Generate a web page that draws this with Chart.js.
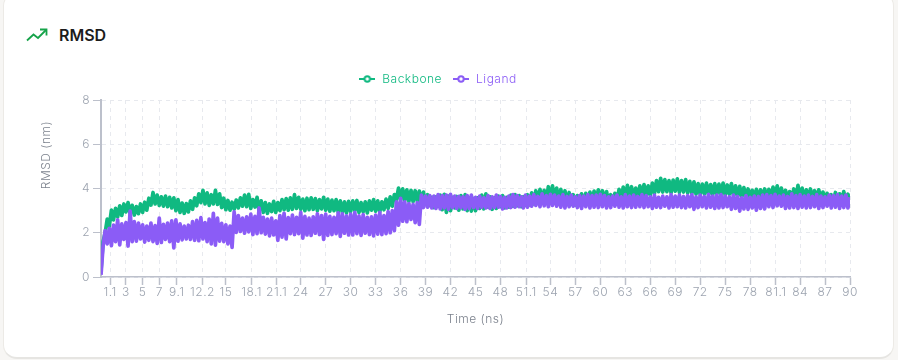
<!DOCTYPE html>
<html><head><meta charset="utf-8">
<script src="https://cdn.jsdelivr.net/npm/chart.js@4"></script>
<style>
html,body{margin:0;padding:0;background:#f7f6f4;width:898px;height:360px;overflow:hidden}
#card{position:absolute;left:3px;top:-8px;width:889px;height:364px;background:#fff;border:1px solid #eceae6;border-bottom:2px solid #e6e5e2;border-radius:14px}
#title{position:absolute;left:59px;top:25px;font:600 16px/20px Inter,sans-serif;color:#1c1c1c}
#icon{position:absolute;left:26px;top:27px}
canvas{position:absolute;left:0;top:0}
</style></head><body>
<div id="card"></div>
<svg id="icon" width="22" height="16" viewBox="0 0 22 16" fill="none" stroke="#16a34a" stroke-width="1.8"><path d="M1 13.5 L7.5 7.5 L12 11 L20 3"/><path d="M14 2.5 H20.5 V8.5"/></svg>
<div id="title">RMSD</div>
<canvas id="c" width="898" height="360"></canvas>
<script>
const tickLabels=[1.1,3,5,7,9.1,12.2,15,18.1,21.1,24,27,30,33,36,39,42,45,48,51.1,54,57,60,63,66,69,72,75,78,81.1,84,87,90];
const yTicks=[0,2,4,6,8];
const backbone=[
0.30,1.60,2.00,2.62,2.30,3.02,2.58,3.10,2.72,3.22,2.78,3.30,2.94,3.36,2.86,3.24,2.80,3.18,2.86,3.30,
2.92,3.38,3.02,3.56,3.25,3.82,3.30,3.70,3.24,3.62,3.20,3.66,3.18,3.60,3.12,3.58,3.00,3.50,2.92,3.34,
2.88,3.32,2.94,3.44,3.06,3.58,3.22,3.76,3.36,3.92,3.30,3.80,3.24,3.72,3.30,3.92,3.28,3.76,3.14,3.56,
3.04,3.46,3.02,3.38,3.06,3.48,3.12,3.58,3.20,3.70,3.18,3.74,3.10,3.50,3.16,3.60,3.00,3.44,2.92,3.36,
2.88,3.30,2.96,3.42,2.92,3.36,3.00,3.50,3.04,3.54,3.02,3.58,3.06,3.72,3.10,3.60,3.06,3.52,3.00,3.56,
3.04,3.58,3.06,3.54,3.00,3.50,3.08,3.60,3.02,3.52,2.98,3.48,3.00,3.50,2.94,3.44,2.92,3.40,2.90,3.42,
2.96,3.44,3.00,3.46,2.92,3.36,2.94,3.40,2.90,3.44,3.02,3.50,2.98,3.44,2.96,3.40,3.04,3.52,3.10,3.62,
3.20,3.72,3.50,4.02,3.48,3.98,3.46,3.94,3.42,3.92,3.40,3.90,3.44,3.88,3.38,3.84,3.30,3.72,3.24,3.60,
3.14,3.62,3.20,3.70,3.04,3.74,2.92,3.66,3.00,3.60,3.12,3.64,3.02,3.68,3.08,3.72,3.00,3.56,2.98,3.54,
3.00,3.58,3.10,3.70,3.08,3.76,3.16,3.62,3.06,3.58,3.10,3.66,3.18,3.68,3.12,3.60,3.16,3.70,3.20,3.72,
3.22,3.68,3.18,3.62,3.24,3.72,3.26,3.80,3.30,3.90,3.36,3.96,3.34,3.92,3.42,4.08,3.46,4.12,3.44,4.02,
3.40,3.96,3.36,3.90,3.30,3.82,3.28,3.72,3.26,3.68,3.32,3.76,3.34,3.78,3.38,3.84,3.40,3.88,3.42,3.94,
3.44,3.90,3.40,3.86,3.30,3.72,3.34,3.78,3.44,3.96,3.50,4.06,3.54,4.14,3.56,4.08,3.52,4.02,3.58,4.12,
3.60,4.18,3.64,4.12,3.70,4.24,3.78,4.36,3.86,4.46,3.84,4.40,3.86,4.36,3.80,4.38,3.88,4.44,3.82,4.36,
3.84,4.40,3.80,4.32,3.78,4.30,3.74,4.22,3.72,4.20,3.76,4.24,3.72,4.18,3.70,4.22,3.74,4.20,3.72,4.24,
3.70,4.16,3.74,4.22,3.68,4.12,3.66,4.10,3.62,4.04,3.60,3.98,3.58,3.92,3.56,3.96,3.54,3.94,3.58,3.98,
3.56,3.96,3.60,4.06,3.62,4.12,3.58,4.02,3.52,3.92,3.50,3.86,3.54,3.98,3.56,4.14,3.52,4.02,3.50,3.94,
3.54,3.98,3.52,3.90,3.50,3.94,3.46,3.84,3.44,3.78,3.42,3.72,3.46,3.82,3.44,3.76,3.48,3.86,3.46,3.74,
3.50];
const ligand=[
0.10,1.40,2.10,1.50,2.20,1.42,2.35,1.60,2.58,1.45,2.40,1.70,2.46,1.40,2.98,1.60,2.50,1.62,2.44,1.72,
2.36,1.58,2.30,1.66,2.44,1.60,2.32,1.52,2.66,1.56,2.38,1.70,2.44,1.60,2.54,1.32,2.58,1.62,2.40,1.68,
2.30,1.72,2.34,1.70,2.50,1.66,2.56,1.64,2.68,1.72,2.46,1.60,2.62,1.50,2.88,1.44,2.66,1.62,2.42,1.60,
2.36,1.50,2.30,1.34,2.94,2.02,2.78,2.06,2.66,1.98,2.72,2.04,2.84,1.92,2.74,1.96,3.12,2.00,2.70,1.94,
2.62,1.86,2.66,1.90,2.54,1.66,2.78,1.80,2.88,1.72,2.68,1.96,2.80,1.92,2.70,1.96,2.92,1.76,2.74,1.90,
2.66,1.88,2.72,1.98,2.86,1.92,2.78,1.70,2.84,1.88,2.74,1.92,2.70,1.96,2.90,1.84,2.86,1.98,2.76,1.90,
2.84,1.90,2.92,1.96,2.76,1.88,2.82,1.98,2.70,1.92,2.72,1.86,2.80,1.94,2.92,1.92,2.78,1.96,2.96,2.00,
3.00,2.10,3.40,2.34,3.56,2.52,3.40,2.50,3.32,2.60,3.28,2.46,3.36,2.38,3.70,3.14,3.66,3.16,3.68,3.12,
3.66,3.10,3.72,3.08,3.68,3.12,3.70,3.06,3.74,3.14,3.66,3.10,3.64,3.14,3.62,3.06,3.68,3.10,3.70,3.14,
3.60,3.10,3.66,3.16,3.58,3.12,3.68,3.10,3.62,3.14,3.70,3.16,3.64,3.08,3.60,3.12,3.66,3.14,3.72,3.16,
3.68,3.18,3.62,3.12,3.70,3.16,3.66,3.20,3.72,3.24,3.64,3.18,3.76,3.22,3.68,3.18,3.74,3.24,3.70,3.20,
3.66,3.16,3.72,3.12,3.64,3.18,3.70,3.20,3.62,3.14,3.68,3.10,3.66,3.18,3.72,3.12,3.68,3.16,3.70,3.14,
3.74,3.18,3.68,3.12,3.62,3.14,3.66,3.20,3.70,3.16,3.62,3.12,3.72,3.18,3.66,3.14,3.70,3.16,3.64,3.18,
3.72,3.14,3.68,3.18,3.62,3.10,3.70,3.16,3.60,3.14,3.66,3.20,3.62,3.12,3.72,3.16,3.66,3.18,3.70,3.14,
3.64,3.12,3.68,3.18,3.72,3.06,3.62,3.14,3.70,3.18,3.64,3.12,3.74,3.16,3.66,3.10,3.70,3.12,3.72,3.14,
3.66,3.18,3.62,3.06,3.70,3.10,3.64,2.98,3.58,3.08,3.68,3.06,3.60,3.12,3.66,3.02,3.64,3.10,3.70,3.08,
3.72,3.18,3.68,3.14,3.74,3.22,3.66,3.20,3.70,3.10,3.64,3.12,3.76,3.14,3.68,3.10,3.72,3.16,3.66,3.12,
3.70,3.14,3.64,3.18,3.72,3.10,3.66,3.14,3.62,3.20,3.70,3.12,3.68,3.16,3.72,3.10,3.66,3.14,3.70,3.12,
3.60];
const sampleStep=0.25;
const green='#10b981', purple='#8b5cf6', tickCol='#9ca3af', axisCol='#bcc0cb', gridCol='#e7e9ee';
const FONT='Inter, sans-serif';
function pts(v){return v.map((y,i)=>({x:i*sampleStep,y}));}
function icon(col){
  const k=document.createElement('canvas');k.width=16;k.height=8;
  const g=k.getContext('2d');
  g.strokeStyle=col;g.lineWidth=2;
  g.beginPath();g.moveTo(0,4);g.lineTo(16,4);g.stroke();
  g.fillStyle='#fff';g.beginPath();g.arc(8,4,2.7,0,Math.PI*2);g.fill();g.stroke();
  return k;
}
const spacing={id:'spacing',beforeDraw(ch){ch.ctx.letterSpacing='0.5px';}};
const legendGap={id:'legendGap',
  beforeInit(ch){const f=ch.legend.fit;ch.legend.fit=function(){f.call(this);this.height+=5;};},
  afterLayout(ch){ch.legend.left+=18;}};
const yTitle={id:'yTitle',afterDraw(ch){const c=ch.ctx;c.save();c.translate(46,155);c.rotate(-Math.PI/2);
  c.font='300 12px '+FONT;c.fillStyle='#7c828d';c.textAlign='center';c.textBaseline='middle';c.fillText('RMSD (nm)',0,0);c.restore();}};
new Chart(document.getElementById('c'),{
  type:'line',
  data:{datasets:[
    {label:'Backbone',data:pts(backbone),borderColor:green,backgroundColor:green,borderWidth:3.7,borderJoinStyle:'round',pointRadius:0,order:1},
    {label:'Ligand',data:pts(ligand),borderColor:purple,backgroundColor:purple,borderWidth:3.7,borderJoinStyle:'round',pointRadius:0,order:0}
  ]},
  plugins:[spacing,legendGap,yTitle],
  options:{
    responsive:false,animation:false,normalized:true,
    layout:{padding:{top:63,left:0,right:48,bottom:0}},
    plugins:{
      tooltip:{enabled:false},
      legend:{display:true,labels:{
        usePointStyle:true,pointStyleWidth:18,padding:10,boxHeight:8,
        font:{family:FONT,size:12,weight:'300'},
        generateLabels(ch){return ch.data.datasets.map((d,i)=>({text:d.label,fontColor:d.borderColor,pointStyle:icon(d.borderColor),datasetIndex:i,lineWidth:0,strokeStyle:'transparent',fillStyle:'transparent'}));}
      }}
    },
    scales:{
      x:{type:'linear',min:0,max:90,
        afterBuildTicks(s){s.ticks=tickLabels.map(v=>({value:v}));},
        afterFit(s){s.height=83;},
        ticks:{autoSkip:false,maxRotation:0,minRotation:0,padding:0,color:tickCol,font:{family:FONT,size:12,weight:'300'},callback:v=>String(v)},
        grid:{color:gridCol,tickBorderDash:[],tickColor:axisCol,tickLength:8,tickWidth:1.5,lineWidth:1},
        border:{display:true,color:axisCol,width:1.5,dash:[4,4]},
        title:{display:true,text:'Time (ns)',color:'#7c828d',font:{family:FONT,size:12,weight:'300'},padding:{top:0,bottom:33}}
      },
      y:{type:'linear',min:0,max:8,
        afterBuildTicks(s){s.ticks=yTicks.map(v=>({value:v}));},
        afterFit(s){s.width=101;},
        ticks:{padding:3,color:tickCol,font:{family:FONT,size:12,weight:'300'},callback:v=>String(v)},
        grid:{color:gridCol,tickBorderDash:[],tickColor:axisCol,tickLength:8,tickWidth:1,lineWidth:1},
        border:{display:true,color:axisCol,width:2,dash:[4,4]}
      }
    }
  }
});
</script>
</body></html>
